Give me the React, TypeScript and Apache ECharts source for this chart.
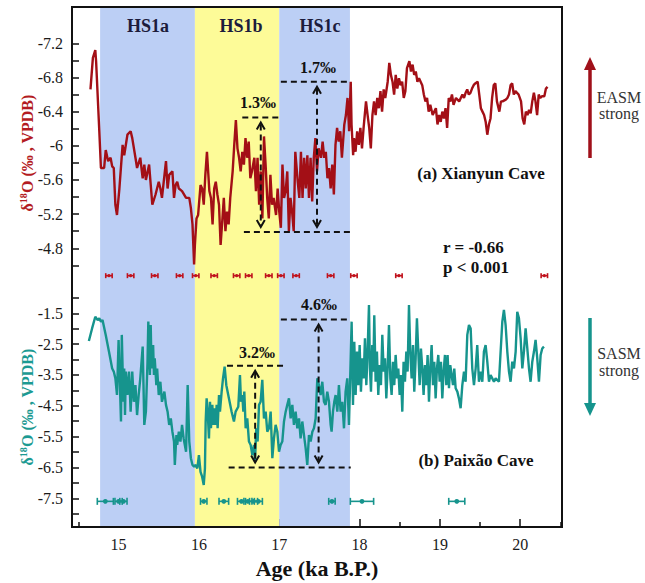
import React, { useEffect, useRef } from "react";
import * as echarts from "echarts";

// ---------- data ----------
const ageMajorTicks = [15, 16, 17, 18, 19, 20];
const ageMinorTicks = [14.5, 15.5, 16.5, 17.5, 18.5, 19.5, 20.5];
const xianyunTicks = [-7.2, -7.0, -6.8, -6.6, -6.4, -6.2, -6.0, -5.8, -5.6, -5.4, -5.2, -5.0, -4.8, -4.6];
const xianyunLabels = [-7.2, -6.8, -6.4, -6, -5.6, -5.2, -4.8];
const paixaoTicks = [-1, -1.5, -2, -2.5, -3, -3.5, -4, -4.5, -5, -5.5, -6, -6.5, -7, -7.5, -8];
const paixaoLabels = [-1.5, -2.5, -3.5, -4.5, -5.5, -6.5, -7.5];

const bandNames = ["HS1a", "HS1b", "HS1c"];
const bandStarts = [14.77, 15.95, 17.0];
const bandEnds = [15.95, 17.0, 17.88];

const xianyunData = [
  [14.65,-6.66],[14.68,-7.03],[14.71,-7.12],[14.72,-6.99],[14.76,-6.17],[14.78,-5.74],[14.82,-5.74],[14.84,-5.95],[14.87,-5.82],[14.90,-5.86],[14.92,-5.76],[14.94,-5.74],[14.96,-5.31],[14.98,-5.19],[15.01,-5.50],[15.05,-6.01],[15.07,-5.89],[15.09,-6.01],[15.11,-6.13],[15.15,-6.17],[15.17,-6.09],[15.21,-5.86],[15.23,-5.74],[15.27,-5.86],[15.30,-5.62],[15.32,-5.78],[15.34,-5.60],[15.38,-5.78],[15.42,-5.31],[15.46,-5.43],[15.50,-5.58],[15.52,-5.50],[15.54,-5.39],[15.59,-5.82],[15.61,-5.50],[15.63,-5.66],[15.67,-5.70],[15.69,-5.39],[15.71,-5.54],[15.73,-5.58],[15.75,-5.50],[15.79,-5.47],[15.84,-5.39],[15.88,-5.39],[15.90,-5.27],[15.92,-5.08],[15.94,-4.61],[15.95,-4.84],[15.97,-5.15],[15.99,-5.19],[16.02,-5.54],[16.04,-5.50],[16.06,-5.31],[16.08,-5.66],[16.10,-5.93],[16.13,-5.47],[16.15,-5.39],[16.17,-5.08],[16.19,-5.50],[16.21,-5.58],[16.23,-5.43],[16.25,-5.31],[16.27,-4.84],[16.29,-5.11],[16.31,-5.39],[16.33,-5.00],[16.35,-5.23],[16.37,-5.08],[16.39,-5.39],[16.42,-5.70],[16.44,-6.01],[16.46,-6.30],[16.48,-5.97],[16.50,-5.86],[16.52,-5.70],[16.54,-5.93],[16.56,-5.78],[16.58,-6.09],[16.60,-5.86],[16.62,-6.05],[16.64,-5.62],[16.66,-5.70],[16.69,-5.86],[16.71,-5.47],[16.73,-5.86],[16.75,-5.31],[16.77,-5.70],[16.79,-5.15],[16.81,-6.11],[16.83,-5.78],[16.85,-5.39],[16.87,-5.15],[16.89,-5.66],[16.91,-5.31],[16.93,-5.39],[16.96,-5.19],[16.98,-5.50],[17.00,-5.23],[17.02,-5.04],[17.04,-5.78],[17.06,-5.39],[17.08,-5.47],[17.10,-5.70],[17.12,-5.00],[17.14,-5.39],[17.16,-5.23],[17.18,-5.00],[17.20,-5.93],[17.23,-5.58],[17.25,-5.39],[17.27,-5.93],[17.29,-5.39],[17.31,-5.86],[17.33,-5.50],[17.35,-5.89],[17.37,-5.39],[17.39,-5.86],[17.41,-5.35],[17.43,-5.86],[17.45,-6.09],[17.47,-5.70],[17.49,-5.97],[17.52,-5.86],[17.54,-6.05],[17.56,-5.86],[17.58,-5.93],[17.60,-5.62],[17.62,-5.74],[17.64,-5.50],[17.66,-5.78],[17.68,-5.43],[17.70,-6.01],[17.72,-6.21],[17.74,-6.05],[17.76,-6.17],[17.78,-5.86],[17.81,-6.25],[17.83,-6.36],[17.85,-6.56],[17.87,-6.17],[17.89,-6.75],[17.90,-6.25],[17.92,-5.89],[17.93,-6.09],[17.95,-5.93],[17.97,-6.17],[17.99,-6.01],[18.01,-6.21],[18.03,-5.97],[18.05,-6.21],[18.08,-6.52],[18.10,-6.36],[18.12,-6.21],[18.14,-5.97],[18.16,-6.36],[18.18,-6.52],[18.20,-6.36],[18.22,-6.56],[18.24,-6.44],[18.26,-6.64],[18.28,-6.40],[18.30,-6.66],[18.32,-6.56],[18.35,-6.75],[18.37,-6.97],[18.39,-6.83],[18.41,-6.75],[18.43,-6.60],[18.45,-6.83],[18.47,-6.67],[18.49,-6.79],[18.51,-6.71],[18.53,-6.75],[18.55,-6.56],[18.57,-6.64],[18.59,-6.91],[18.62,-6.99],[18.64,-6.87],[18.66,-6.95],[18.68,-6.83],[18.70,-6.87],[18.72,-6.75],[18.74,-6.79],[18.78,-6.71],[18.80,-6.60],[18.82,-6.52],[18.84,-6.56],[18.86,-6.40],[18.88,-6.48],[18.91,-6.36],[18.93,-6.40],[18.95,-6.44],[18.97,-6.25],[18.99,-6.36],[19.01,-6.28],[19.03,-6.40],[19.05,-6.32],[19.07,-6.44],[19.09,-6.21],[19.11,-6.56],[19.13,-6.52],[19.15,-6.60],[19.17,-6.48],[19.20,-6.56],[19.24,-6.52],[19.26,-6.56],[19.28,-6.60],[19.30,-6.56],[19.32,-6.62],[19.34,-6.66],[19.36,-6.60],[19.38,-6.62],[19.40,-6.67],[19.42,-6.71],[19.44,-6.73],[19.47,-6.75],[19.49,-6.60],[19.51,-6.44],[19.53,-6.40],[19.55,-6.36],[19.57,-6.28],[19.59,-6.13],[19.61,-6.25],[19.63,-6.32],[19.65,-6.56],[19.67,-6.71],[19.69,-6.73],[19.71,-6.52],[19.74,-6.40],[19.76,-6.52],[19.78,-6.52],[19.82,-6.54],[19.84,-6.56],[19.86,-6.60],[19.88,-6.71],[19.90,-6.73],[19.92,-6.60],[19.94,-6.64],[19.96,-6.62],[19.98,-6.60],[20.01,-6.52],[20.03,-6.32],[20.05,-6.25],[20.07,-6.40],[20.09,-6.36],[20.11,-6.42],[20.13,-6.38],[20.15,-6.52],[20.17,-6.62],[20.19,-6.52],[20.21,-6.36],[20.23,-6.60],[20.25,-6.56],[20.27,-6.58],[20.30,-6.58],[20.32,-6.67],[20.34,-6.69]
];

const paixaoData = [
  [14.63,-2.40],[14.67,-1.99],[14.71,-1.61],[14.74,-1.72],[14.76,-1.66],[14.78,-1.77],[14.80,-1.72],[14.84,-2.20],[14.88,-2.74],[14.92,-3.29],[14.94,-3.39],[14.96,-3.61],[14.98,-4.15],[15.00,-2.37],[15.01,-3.29],[15.03,-5.01],[15.04,-2.20],[15.06,-4.37],[15.07,-3.29],[15.08,-4.80],[15.09,-3.39],[15.11,-4.15],[15.13,-3.39],[15.15,-4.69],[15.17,-3.39],[15.19,-4.37],[15.21,-3.83],[15.23,-4.80],[15.25,-4.15],[15.27,-3.61],[15.30,-2.58],[15.31,-3.83],[15.32,-5.12],[15.34,-4.69],[15.36,-3.07],[15.37,-1.77],[15.39,-3.50],[15.40,-1.88],[15.41,-3.29],[15.43,-2.53],[15.44,-3.50],[15.45,-2.96],[15.47,-3.83],[15.48,-3.29],[15.50,-4.15],[15.52,-3.72],[15.54,-4.37],[15.57,-4.04],[15.59,-4.47],[15.61,-4.69],[15.63,-5.12],[15.65,-4.91],[15.67,-5.34],[15.69,-5.66],[15.70,-6.42],[15.72,-5.45],[15.73,-5.77],[15.75,-5.34],[15.77,-5.66],[15.79,-5.12],[15.81,-5.56],[15.84,-5.99],[15.86,-3.83],[15.88,-5.66],[15.90,-6.20],[15.92,-6.42],[15.94,-6.47],[15.96,-6.42],[15.98,-6.53],[16.00,-6.10],[16.02,-6.64],[16.04,-6.80],[16.06,-7.07],[16.075,-6.53],[16.084,-5.01],[16.096,-4.26],[16.109,-4.69],[16.125,-5.56],[16.138,-4.37],[16.150,-5.23],[16.167,-4.47],[16.179,-5.12],[16.192,-4.58],[16.208,-5.12],[16.221,-4.47],[16.233,-5.23],[16.250,-4.15],[16.262,-4.69],[16.283,-4.04],[16.300,-3.61],[16.320,-3.23],[16.341,-3.83],[16.374,-4.26],[16.407,-4.69],[16.436,-5.01],[16.457,-4.69],[16.490,-4.53],[16.511,-3.50],[16.524,-4.37],[16.540,-4.15],[16.553,-4.69],[16.565,-4.04],[16.582,-5.23],[16.602,-4.91],[16.623,-5.66],[16.644,-5.77],[16.665,-6.10],[16.685,-5.77],[16.698,-6.31],[16.714,-5.23],[16.731,-5.66],[16.748,-4.47],[16.768,-4.37],[16.789,-3.66],[16.810,-4.91],[16.831,-4.69],[16.851,-5.34],[16.872,-5.23],[16.893,-4.69],[16.914,-6.20],[16.934,-5.56],[16.955,-5.12],[16.976,-5.34],[16.997,-5.99],[17.017,-5.77],[17.038,-5.66],[17.059,-5.01],[17.080,-4.69],[17.100,-4.47],[17.121,-4.26],[17.142,-4.91],[17.163,-4.47],[17.183,-5.12],[17.204,-4.69],[17.225,-5.23],[17.246,-4.91],[17.266,-5.56],[17.287,-5.01],[17.308,-5.45],[17.329,-5.88],[17.349,-6.42],[17.370,-5.45],[17.391,-5.66],[17.412,-5.34],[17.432,-5.23],[17.453,-4.91],[17.474,-3.61],[17.494,-3.83],[17.515,-4.15],[17.536,-3.72],[17.557,-4.37],[17.577,-4.47],[17.598,-4.04],[17.619,-4.37],[17.640,-5.12],[17.652,-5.34],[17.669,-4.69],[17.685,-4.37],[17.702,-4.15],[17.723,-4.69],[17.743,-3.83],[17.764,-4.69],[17.785,-4.37],[17.806,-5.23],[17.826,-4.04],[17.847,-3.61],[17.868,-5.12],[17.901,-1.77],[17.918,-4.47],[17.934,-2.42],[17.951,-4.15],[17.968,-2.74],[17.984,-3.83],[18.001,-2.53],[18.017,-4.04],[18.034,-2.96],[18.051,-3.61],[18.067,-2.31],[18.084,-3.83],[18.100,-2.74],[18.117,-1.23],[18.129,-3.29],[18.142,-4.04],[18.158,-2.53],[18.171,-3.39],[18.183,-1.56],[18.200,-3.72],[18.216,-2.74],[18.233,-4.15],[18.250,-3.18],[18.266,-3.83],[18.283,-2.20],[18.300,-3.39],[18.316,-2.96],[18.333,-4.26],[18.349,-3.29],[18.366,-1.88],[18.383,-3.61],[18.399,-4.15],[18.416,-3.07],[18.432,-3.83],[18.449,-2.85],[18.466,-3.61],[18.482,-3.29],[18.499,-4.15],[18.515,-3.50],[18.532,-4.69],[18.548,-3.07],[18.565,-3.72],[18.582,-2.74],[18.598,-3.39],[18.615,-1.23],[18.631,-2.74],[18.648,-3.61],[18.665,-2.53],[18.681,-4.04],[18.698,-2.96],[18.714,-1.66],[18.731,-2.74],[18.748,-3.83],[18.764,-2.64],[18.781,-3.29],[18.797,-4.15],[18.814,-3.18],[18.831,-3.83],[18.847,-2.85],[18.864,-4.37],[18.880,-3.29],[18.897,-2.53],[18.914,-3.83],[18.930,-3.07],[18.947,-4.26],[18.963,-3.29],[18.980,-2.85],[18.997,-3.72],[19.013,-3.07],[19.030,-4.26],[19.046,-3.39],[19.063,-2.85],[19.080,-3.83],[19.096,-2.85],[19.113,-3.93],[19.129,-3.18],[19.146,-3.50],[19.163,-3.83],[19.179,-3.29],[19.196,-3.93],[19.217,-4.04],[19.237,-4.26],[19.258,-4.58],[19.279,-3.83],[19.300,-3.39],[19.320,-3.72],[19.341,-2.20],[19.362,-1.88],[19.383,-1.99],[19.403,-3.29],[19.424,-3.83],[19.445,-3.29],[19.465,-2.53],[19.486,-3.72],[19.507,-3.39],[19.528,-3.72],[19.548,-2.74],[19.569,-2.53],[19.590,-3.07],[19.611,-3.72],[19.631,-3.50],[19.652,-3.61],[19.673,-3.72],[19.694,-3.61],[19.735,-3.72],[19.756,-2.74],[19.777,-1.77],[19.797,-1.39],[19.818,-1.88],[19.839,-2.74],[19.860,-3.39],[19.880,-3.72],[19.901,-3.07],[19.922,-3.29],[19.943,-2.74],[19.963,-1.45],[19.984,-1.66],[20.005,-2.31],[20.026,-3.29],[20.046,-2.74],[20.067,-1.99],[20.088,-2.64],[20.109,-3.29],[20.129,-3.72],[20.150,-3.07],[20.171,-2.74],[20.191,-2.36],[20.212,-2.96],[20.233,-3.72],[20.254,-2.85],[20.274,-2.64],[20.295,-2.58]
];

// U-Th dating ages and 2-sigma errors (ka)
const xianyunDatingAges = [14.88, 15.15, 15.45, 15.76, 15.96, 16.19, 16.47, 16.62, 16.87, 17.02, 17.21, 17.64, 17.93, 18.49, 20.30];
const xianyunDatingErrs = [0.04, 0.04, 0.04, 0.04, 0.04, 0.04, 0.04, 0.04, 0.04, 0.04, 0.04, 0.04, 0.04, 0.04, 0.04];
const xianyunDatingLevel = -4.48;
const paixaoDatingAges = [14.835, 15.0, 15.06, 16.06, 16.31, 16.53, 16.61, 16.68, 16.74, 17.656, 18.03, 19.21];
const paixaoDatingErrs = [0.10, 0.045, 0.045, 0.04, 0.06, 0.05, 0.05, 0.05, 0.05, 0.04, 0.145, 0.10];
const paixaoDatingLevel = -7.6;

// amplitude annotations: horizontal dashed levels [ageFrom, ageTo, value], vertical arrows [age, valueTop, valueBottom]
const xianyunLevels = [[17.02, 17.89, -6.75], [16.54, 17.02, -6.33], [16.56, 17.89, -4.99]];
const xianyunArrows = [[16.77, -6.33, -4.99], [17.47, -6.75, -4.99]];
const paixaoLevels = [[17.02, 17.89, -1.70], [16.35, 17.06, -3.20], [16.37, 17.89, -6.50]];
const paixaoArrows = [[16.70, -3.20, -6.50], [17.49, -1.70, -6.50]];

// ---------- styles ----------
const RED = "#a30f16";
const TEAL = "#16948d";
const BLUE = "#bccff5";
const YELLOW = "#fdfb98";
const SERIF = "'Liberation Serif', 'Times New Roman', serif";
const X_MIN = 14.42;
const X_MAX = 20.52;

function levelSeries(levels: number[][], xi: number, yi: number) {
  return {
    type: "custom",
    xAxisIndex: xi,
    yAxisIndex: yi,
    z: 5,
    silent: true,
    data: levels,
    encode: { x: [0, 1], y: 2 },
    renderItem: (params: any, api: any) => {
      const a = api.coord([api.value(0), api.value(2)]);
      const b = api.coord([api.value(1), api.value(2)]);
      return {
        type: "line",
        shape: { x1: a[0], y1: a[1], x2: b[0], y2: b[1] },
        style: { stroke: "#111", lineWidth: 2, lineDash: [6, 4], fill: null },
      };
    },
  };
}

function arrowSeries(arrows: number[][], xi: number, yi: number) {
  return {
    type: "custom",
    xAxisIndex: xi,
    yAxisIndex: yi,
    z: 5,
    silent: true,
    data: arrows,
    encode: { x: 0, y: [1, 2] },
    renderItem: (params: any, api: any) => {
      const t = api.coord([api.value(0), api.value(1)]);
      const b = api.coord([api.value(0), api.value(2)]);
      const x = t[0];
      const y0 = t[1] + 5;
      const y1 = b[1] - 5;
      const st = { stroke: "#111", lineWidth: 2, fill: null };
      return {
        type: "group",
        children: [
          { type: "line", shape: { x1: x, y1: y0 + 2, x2: x, y2: y1 - 2 }, style: { ...st, lineDash: [6, 4] } },
          { type: "polyline", shape: { points: [[x - 4, y0 + 7], [x, y0], [x + 4, y0 + 7]] }, style: st },
          { type: "polyline", shape: { points: [[x - 4, y1 - 7], [x, y1], [x + 4, y1 - 7]] }, style: st },
        ],
      };
    },
  };
}

function datingSeries(ages: number[], errs: number[], level: number, color: string, xi: number, yi: number, cap: number, dot: number) {
  return {
    type: "custom",
    xAxisIndex: xi,
    yAxisIndex: yi,
    z: 4,
    silent: true,
    data: ages.map((a, i) => [a, errs[i], level]),
    encode: { x: 0, y: 2 },
    renderItem: (params: any, api: any) => {
      const a = api.value(0);
      const e = api.value(1);
      const lv = api.value(2);
      const c = api.coord([a, lv]);
      const l = api.coord([a - e, lv]);
      const r = api.coord([a + e, lv]);
      const st = { stroke: color, lineWidth: 1.6 };
      return {
        type: "group",
        children: [
          { type: "line", shape: { x1: l[0], y1: c[1], x2: r[0], y2: c[1] }, style: st },
          { type: "line", shape: { x1: l[0], y1: c[1] - cap, x2: l[0], y2: c[1] + cap }, style: st },
          { type: "line", shape: { x1: r[0], y1: c[1] - cap, x2: r[0], y2: c[1] + cap }, style: st },
          { type: "circle", shape: { cx: c[0], cy: c[1], r: dot }, style: { fill: color } },
        ],
      };
    },
  };
}

function txt(text: string, x: number, y: number, size: number, bold: boolean, color: string, align = "center") {
  return {
    type: "text",
    x,
    y,
    z: 50,
    silent: true,
    style: {
      text,
      fill: color,
      font: `${bold ? "bold " : ""}${size}px ${SERIF}`,
      align,
      verticalAlign: "middle",
      textAlign: align,
      textVerticalAlign: "middle",
    },
  };
}

function yName(x: number, y: number, color: string) {
  return {
    type: "text",
    x,
    y,
    rotation: Math.PI / 2,
    z: 50,
    silent: true,
    style: {
      text: "{n|δ}{s|18}{n|O (‰ , VPDB)}",
      align: "center",
      verticalAlign: "middle",
      textAlign: "center",
      textVerticalAlign: "middle",
      rich: {
        n: { fontSize: 16, fontWeight: "bold", fontFamily: SERIF, fill: color, color, lineHeight: 18 },
        s: { fontSize: 10, fontWeight: "bold", fontFamily: SERIF, fill: color, color, lineHeight: 18, verticalAlign: "top", padding: [0, 0, 8, 0] },
      },
    },
  };
}

export default function App() {
  const ref = useRef<HTMLDivElement>(null);
  useEffect(() => {
    if (!ref.current) return;
    const chart = echarts.init(ref.current, undefined, { renderer: "svg" });
    const bandColors = [BLUE, YELLOW, BLUE];
    const yLabel = { color: "#1a1a1a", fontFamily: SERIF, fontSize: 16, margin: 9 };
    const option: any = {
      animation: false,
      backgroundColor: "#fff",
      textStyle: { fontFamily: SERIF },
      grid: [
        { left: 72, width: 490, top: 9.1, height: 273.4 },
        { left: 72, width: 490, top: 282.5, height: 244.5 },
        { left: 72, width: 490, top: 7, height: 520 },
      ],
      xAxis: [
        { type: "value", gridIndex: 0, min: X_MIN, max: X_MAX, show: false },
        {
          type: "value",
          gridIndex: 1,
          min: X_MIN,
          max: X_MAX,
          position: "bottom",
          axisLine: { show: false },
          splitLine: { show: false },
          axisTick: { inside: true, length: 8, lineStyle: { color: "#111", width: 1.5 }, customValues: ageMajorTicks },
          axisLabel: { customValues: ageMajorTicks, color: "#1a1a1a", fontFamily: SERIF, fontSize: 16, margin: 9 },
          name: "Age (ka B.P.)",
          nameLocation: "middle",
          nameGap: 30,
          nameTextStyle: { fontFamily: SERIF, fontSize: 22, fontWeight: "bold", color: "#111" },
        },
        {
          type: "value",
          gridIndex: 2,
          min: X_MIN,
          max: X_MAX,
          position: "bottom",
          axisLine: { show: false },
          splitLine: { show: false },
          axisLabel: { show: false },
          axisTick: { inside: true, length: 5, lineStyle: { color: "#111", width: 1.5 }, customValues: ageMinorTicks },
        },
      ],
      yAxis: [
        {
          type: "value",
          gridIndex: 0,
          min: -7.6,
          max: -4.4,
          inverse: true,
          axisLine: { show: false },
          splitLine: { show: false },
          axisTick: { inside: true, length: 7, lineStyle: { color: "#111", width: 1.5 }, customValues: xianyunTicks },
          axisLabel: { ...yLabel, customValues: xianyunLabels },
        },
        {
          type: "value",
          gridIndex: 1,
          min: -8.432,
          max: -0.5,
          axisLine: { show: false },
          splitLine: { show: false },
          axisTick: { inside: true, length: 7, lineStyle: { color: "#111", width: 1.5 }, customValues: paixaoTicks },
          axisLabel: { ...yLabel, customValues: paixaoLabels },
        },
        { type: "value", gridIndex: 2, min: 0, max: 1, show: false },
      ],
      series: [
        {
          type: "line",
          xAxisIndex: 2,
          yAxisIndex: 2,
          data: [],
          z: 0,
          silent: true,
          markArea: {
            silent: true,
            data: bandNames.map((n, i) => [
              { name: n, xAxis: bandStarts[i], itemStyle: { color: bandColors[i], opacity: 1 } },
              { xAxis: bandEnds[i] },
            ]),
            label: { show: false },
          },
        },
        {
          type: "line",
          name: "Xianyun Cave",
          xAxisIndex: 0,
          yAxisIndex: 0,
          data: xianyunData,
          showSymbol: false,
          z: 3,
          lineStyle: { color: RED, width: 2.4 },
        },
        {
          type: "line",
          name: "Paixão Cave",
          xAxisIndex: 1,
          yAxisIndex: 1,
          data: paixaoData,
          showSymbol: false,
          z: 3,
          lineStyle: { color: TEAL, width: 2.4 },
        },
        levelSeries(xianyunLevels, 0, 0),
        arrowSeries(xianyunArrows, 0, 0),
        levelSeries(paixaoLevels, 1, 1),
        arrowSeries(paixaoArrows, 1, 1),
        datingSeries(xianyunDatingAges, xianyunDatingErrs, xianyunDatingLevel, "#c0121c", 0, 0, 2.5, 1.6),
        datingSeries(paixaoDatingAges, paixaoDatingErrs, paixaoDatingLevel, TEAL, 1, 1, 3.5, 2.4),
      ],
      graphic: [
        { type: "rect", z: 60, silent: true, shape: { x: 72, y: 7, width: 490, height: 520 }, style: { fill: null, stroke: "#111", lineWidth: 2 } },
        txt("HS1a", 148, 26, 18, true, "#1c1c3c"),
        txt("HS1b", 241, 26, 18, true, "#1c1c3c"),
        txt("HS1c", 320, 26, 18, true, "#1c1c3c"),
        txt("1.7‰", 318, 67, 16, true, "#111"),
        txt("1.3‰", 258, 102, 16, true, "#111"),
        txt("4.6‰", 319, 304, 16, true, "#111"),
        txt("3.2‰", 257, 352, 16, true, "#111"),
        txt("(a) Xianyun Cave", 481, 173, 17, true, "#111"),
        txt("r = -0.66", 443, 247, 17, true, "#111", "left"),
        txt("p < 0.001", 443, 267, 17, true, "#111", "left"),
        txt("(b) Paixão Cave", 476, 460, 17, true, "#111"),
        txt("EASM", 619, 97, 16, false, "#333"),
        txt("strong", 619, 113, 16, false, "#333"),
        txt("SASM", 619, 353, 16, false, "#333"),
        txt("strong", 619, 370, 16, false, "#333"),
        yName(27, 153, "#b31b22"),
        yName(27, 407, "#1c9a92"),
        { type: "line", silent: true, shape: { x1: 590, y1: 158, x2: 590, y2: 66 }, style: { stroke: "#a0101a", lineWidth: 3.5 } },
        { type: "polygon", silent: true, shape: { points: [[584, 70], [590, 57], [596, 70]] }, style: { fill: "#a0101a" } },
        { type: "line", silent: true, shape: { x1: 590, y1: 318, x2: 590, y2: 407 }, style: { stroke: "#16948d", lineWidth: 3.5 } },
        { type: "polygon", silent: true, shape: { points: [[584, 403], [590, 416], [596, 403]] }, style: { fill: "#16948d" } },
      ],
    };
    chart.setOption(option);
    return () => chart.dispose();
  }, []);
  return <div ref={ref} style={{ position: "fixed", left: 0, top: 0, width: 645, height: 583, background: "#fff" }} />;
}
